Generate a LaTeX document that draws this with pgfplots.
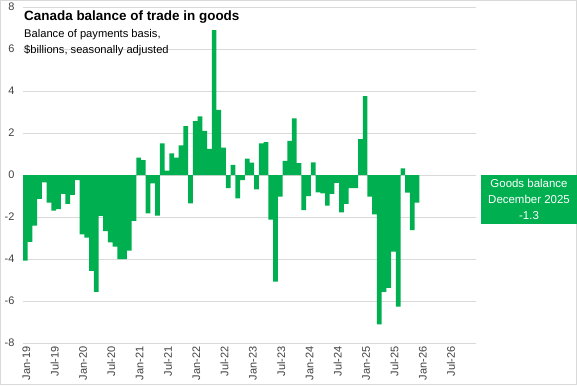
\documentclass[border=0pt]{standalone}
\usepackage{fontspec}
\setmainfont{Liberation Sans}
\usepackage{pgfplots}
\usepackage{pgfplotstable}
\pgfplotsset{compat=1.18}
\definecolor{xlgreen}{HTML}{00B050}
\definecolor{gridgray}{HTML}{D9D9D9}
\definecolor{txtgray}{HTML}{404040}

\pgfplotstableread{
x y
0 -4.08
1 -3.18
2 -2.41
3 -1.14
4 -0.35
5 -1.32
6 -1.70
7 -1.62
8 -0.90
9 -1.38
10 -0.95
11 -0.24
12 -2.83
13 -2.98
14 -4.56
15 -5.56
16 -1.95
17 -2.67
18 -3.21
19 -3.41
20 -4.00
21 -4.00
22 -3.60
23 -2.19
24 0.83
25 0.71
26 -1.83
27 -0.40
28 -1.94
29 1.51
30 0.21
31 1.03
32 0.83
33 1.41
34 2.33
35 -1.35
36 2.57
37 2.79
38 2.10
39 1.24
40 6.90
41 3.10
42 1.30
43 -0.63
44 0.48
45 -1.11
46 -0.24
47 0.78
48 0.59
49 -0.68
50 1.51
51 1.56
52 -2.12
53 -5.08
54 -1.03
55 0.67
56 1.62
57 2.70
58 0.56
59 -1.67
60 -1.00
61 0.60
62 -0.83
63 -0.87
64 -1.46
65 -0.90
66 -0.37
67 -1.78
68 -1.38
69 -0.63
70 -0.63
71 1.71
72 3.76
73 -1.03
74 -1.88
75 -7.11
76 -5.56
77 -5.37
78 -3.65
79 -6.27
80 0.32
81 -0.84
82 -2.62
83 -1.32
}\tradedata

\begin{document}
\begin{tikzpicture}[x=1bp,y=1bp]
\useasboundingbox (0,0) rectangle (577,385);
\draw[gridgray, line width=0.75bp] (0.5,0.5) rectangle (576.5,384.5);
\begin{axis}[
  at={(23bp,42bp)}, anchor=south west,
  scale only axis, width=453bp, height=336bp,
  xmin=-0.5, xmax=95.5, ymin=-8, ymax=8,
  ytick={-8,-6,...,8},
  yticklabels={-8,-6,-4,-2,0,2,4,6,8},
  xtick={0,6,...,90},
  xticklabels={Jan-19,Jul-19,Jan-20,Jul-20,Jan-21,Jul-21,Jan-22,Jul-22,Jan-23,Jul-23,Jan-24,Jul-24,Jan-25,Jul-25,Jan-26,Jul-26},
  axis line style={draw=none},
  major tick length=0pt,
  ymajorgrids, grid style={gridgray, line width=0.75bp},
  tick label style={font=\fontsize{11}{13}\selectfont, text=txtgray},
  yticklabel style={anchor=east, xshift=-5bp},
  xticklabel style={rotate=90, anchor=east, yshift=-1bp},
  ybar, bar width=1, bar shift=0pt,
  clip=false,
]
\addplot[fill=xlgreen, draw=none] table[x=x, y=y] {\tradedata};
\end{axis}
\node[anchor=base west, inner sep=0, font=\bfseries\fontsize{13.5}{16}\selectfont] at (24,365) {Canada balance of trade in goods};
\node[anchor=base west, inner sep=0, font=\fontsize{11.2}{13}\selectfont, text=black] at (24,348) {Balance of payments basis,};
\node[anchor=base west, inner sep=0, font=\fontsize{11.2}{13}\selectfont, text=black] at (24,332) {\$billions, seasonally adjusted};
\fill[xlgreen] (481,161) rectangle (577,210);
\node[anchor=center, inner sep=0, align=center, text=white, font=\fontsize{11.5}{16}\selectfont] at (529,185.5) {Goods balance\\December 2025\\-1.3};
\end{tikzpicture}
\end{document}
